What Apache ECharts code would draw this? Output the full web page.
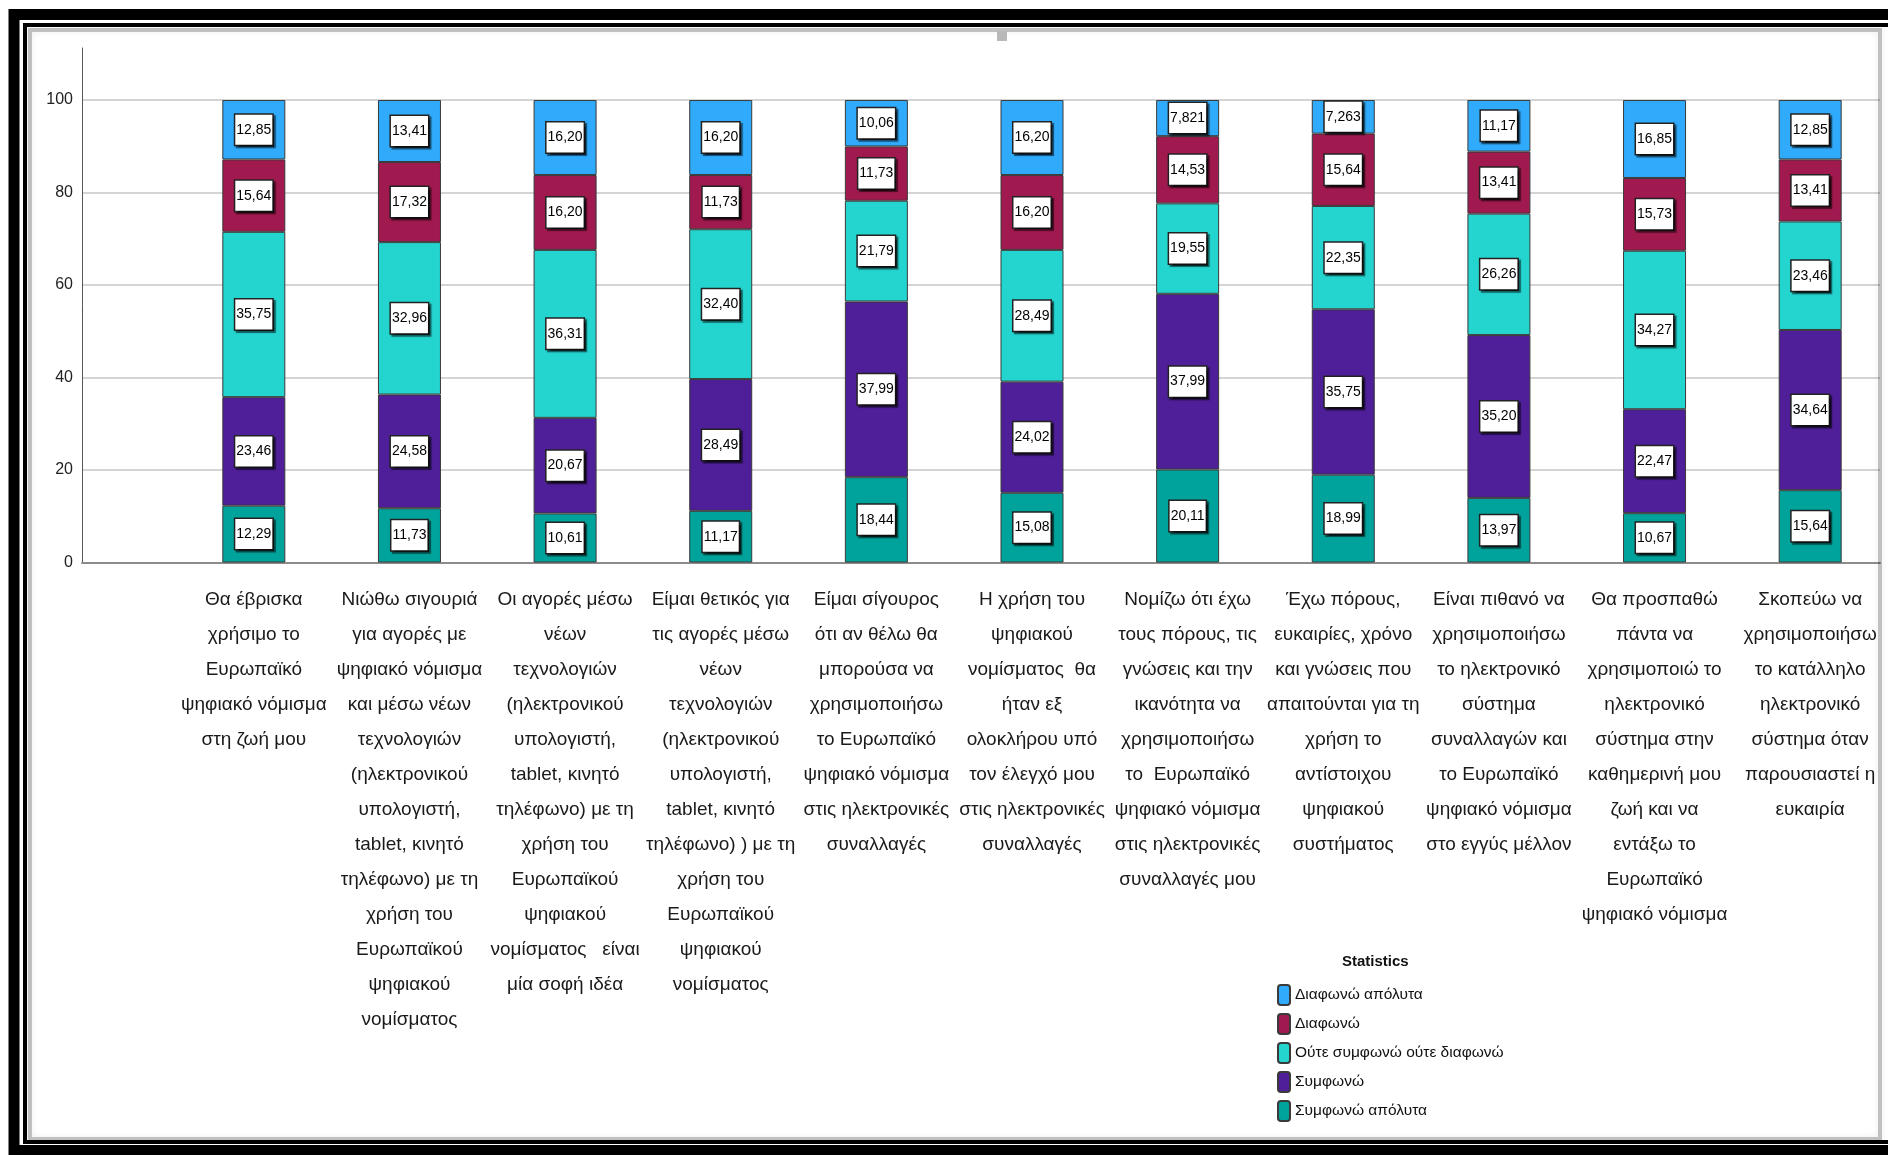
<!DOCTYPE html>
<html>
<head>
<meta charset="utf-8">
<script src="https://cdn.jsdelivr.net/npm/echarts@6/dist/echarts.min.js"></script>
<style>
  html, body { margin: 0; padding: 0; background: #fff; }
  #chart { width: 1888px; height: 1155px; }
</style>
</head>
<body>
<div id="chart"></div>
<script>
// Survey statements (x-axis categories), line breaks as printed under each bar
const categories = [
  "Θα έβρισκα\nχρήσιμο το\nΕυρωπαϊκό\nψηφιακό νόμισμα\nστη ζωή μου",
  "Νιώθω σιγουριά\nγια αγορές με\nψηφιακό νόμισμα\nκαι μέσω νέων\nτεχνολογιών\n(ηλεκτρονικού\nυπολογιστή,\ntablet, κινητό\nτηλέφωνο) με τη\nχρήση του\nΕυρωπαϊκού\nψηφιακού\nνομίσματος",
  "Οι αγορές μέσω\nνέων\nτεχνολογιών\n(ηλεκτρονικού\nυπολογιστή,\ntablet, κινητό\nτηλέφωνο) με τη\nχρήση του\nΕυρωπαϊκού\nψηφιακού\nνομίσματος   είναι\nμία σοφή ιδέα",
  "Είμαι θετικός για\nτις αγορές μέσω\nνέων\nτεχνολογιών\n(ηλεκτρονικού\nυπολογιστή,\ntablet, κινητό\nτηλέφωνο) ) με τη\nχρήση του\nΕυρωπαϊκού\nψηφιακού\nνομίσματος",
  "Είμαι σίγουρος\nότι αν θέλω θα\nμπορούσα να\nχρησιμοποιήσω\nτο Ευρωπαϊκό\nψηφιακό νόμισμα\nστις ηλεκτρονικές\nσυναλλαγές",
  "Η χρήση του\nψηφιακού\nνομίσματος  θα\nήταν εξ\nολοκλήρου υπό\nτον έλεγχό μου\nστις ηλεκτρονικές\nσυναλλαγές",
  "Νομίζω ότι έχω\nτους πόρους, τις\nγνώσεις και την\nικανότητα να\nχρησιμοποιήσω\nτο  Ευρωπαϊκό\nψηφιακό νόμισμα\nστις ηλεκτρονικές\nσυναλλαγές μου",
  "Έχω πόρους,\nευκαιρίες, χρόνο\nκαι γνώσεις που\nαπαιτούνται για τη\nχρήση το\nαντίστοιχου\nψηφιακού\nσυστήματος",
  "Είναι πιθανό να\nχρησιμοποιήσω\nτο ηλεκτρονικό\nσύστημα\nσυναλλαγών και\nτο Ευρωπαϊκό\nψηφιακό νόμισμα\nστο εγγύς μέλλον",
  "Θα προσπαθώ\nπάντα να\nχρησιμοποιώ το\nηλεκτρονικό\nσύστημα στην\nκαθημερινή μου\nζωή και να\nεντάξω το\nΕυρωπαϊκό\nψηφιακό νόμισμα",
  "Σκοπεύω να\nχρησιμοποιήσω\nτο κατάλληλο\nηλεκτρονικό\nσύστημα όταν\nπαρουσιαστεί η\nευκαιρία"
];

// Percentages per response level (stacked bottom to top)
const agreeFully    = [12.29, 11.73, 10.61, 11.17, 18.44, 15.08, 20.11, 18.99, 13.97, 10.67, 15.64];
const agree         = [23.46, 24.58, 20.67, 28.49, 37.99, 24.02, 37.99, 35.75, 35.20, 22.47, 34.64];
const neutral       = [35.75, 32.96, 36.31, 32.40, 21.79, 28.49, 19.55, 22.35, 26.26, 34.27, 23.46];
const disagree      = [15.64, 17.32, 16.20, 11.73, 11.73, 16.20, 14.53, 15.64, 13.41, 15.73, 13.41];
const disagreeFully = [12.85, 13.41, 16.20, 16.20, 10.06, 16.20, 7.821, 7.263, 11.17, 16.85, 12.85];

const seriesNames = [
  "Συμφωνώ απόλυτα",
  "Συμφωνώ",
  "Ούτε συμφωνώ ούτε διαφωνώ",
  "Διαφωνώ",
  "Διαφωνώ απόλυτα"
];
const seriesColors = ["#00a39b", "#4e1f98", "#24d4cf", "#a0194f", "#30abfb"];
const seriesValues = [agreeFully, agree, neutral, disagree, disagreeFully];

// Value axis ticks
const yMin = 0, yMax = 100, yStep = 20;

// Prefer a condensed face of Noto Sans when the system provides one
function hasCondensedFace(family) {
  const ctx = document.createElement('canvas').getContext('2d');
  const sample = 'ψηφιακό νόμισμα';
  ctx.font = '40px ' + family;
  const wide = ctx.measureText(sample).width;
  ctx.font = 'condensed 40px ' + family;
  const narrow = ctx.measureText(sample).width;
  return narrow < wide * 0.93;
}
const condensed = hasCondensedFace("'Noto Sans'");
const FONT = condensed ? "'Noto Sans'" : "'Liberation Sans'";
const STRETCH = condensed ? 'condensed' : 'normal';
const SIZE = condensed
  ? { cat: 24.5, bar: 17, y: 17, legend: 18, title: 18 }
  : { cat: 19, bar: 14, y: 16, legend: 15.5, title: 15 };

const chart = echarts.init(document.getElementById('chart'), null, { renderer: 'canvas' });

// Comma decimal, four significant digits
const fmt = v => Number(v).toPrecision(4).replace('.', ',');

const series = seriesNames.map((name, i) => ({
  name: name,
  type: 'bar',
  stack: 'total',
  xAxisIndex: 2,
  yAxisIndex: 2,
  barWidth: 63,
  data: seriesValues[i],
  itemStyle: { color: seriesColors[i], borderColor: '#3a3a3a', borderWidth: 1 },
  label: {
    show: true,
    position: 'inside',
    formatter: p => fmt(p.value),
    fontFamily: FONT,
    fontWeight: STRETCH,
    fontSize: SIZE.bar,
    lineHeight: 17,
    color: '#000',
    backgroundColor: '#fff',
    borderColor: '#222',
    borderWidth: 1.5,
    padding: [7, 1, 6, 1],
    shadowColor: 'rgba(0,0,0,0.55)',
    shadowBlur: 1,
    shadowOffsetX: 2,
    shadowOffsetY: 2
  },
  emphasis: { disabled: true }
}));

chart.setOption({
  animation: false,
  backgroundColor: '#fff',
  title: {
    text: 'Statistics',
    left: 1337,
    top: 949,
    textStyle: { fontFamily: FONT, fontSize: SIZE.title, fontWeight: 'bold ' + STRETCH, color: '#111' }
  },
  legend: {
    orient: 'vertical',
    left: 1272,
    top: 979,
    itemWidth: 12,
    itemHeight: 20,
    itemGap: 7,
    data: seriesNames.slice().reverse(),
    textStyle: { fontFamily: FONT, fontWeight: STRETCH, fontSize: SIZE.legend, lineHeight: 20, color: '#111' },
    selectedMode: false
  },
  grid: [
    { left: 82, right: 8, top: 48, height: 514.5 },
    { left: 82, right: 8, top: 100, height: 462.5 },
    { left: 176, width: 1721, top: 100, height: 462.5 }
  ],
  xAxis: [
    { gridIndex: 0, type: 'value', show: false },
    {
      gridIndex: 1, type: 'value', min: 0, max: 1,
      axisLine: { show: true, lineStyle: { color: '#8c8c8c', width: 2 } },
      axisTick: { show: false }, axisLabel: { show: false }, splitLine: { show: false }
    },
    {
      gridIndex: 2, type: 'category', data: categories,
      axisLine: { show: false }, axisTick: { show: false },
      axisLabel: {
        interval: 0, margin: 20,
        fontFamily: FONT, fontWeight: STRETCH, fontSize: SIZE.cat, lineHeight: 35,
        color: '#1a1a1a', align: 'center'
      }
    }
  ],
  yAxis: [
    {
      gridIndex: 0, type: 'value', min: 0, max: 1,
      axisLine: { show: true, lineStyle: { color: '#555', width: 1 } },
      axisTick: { show: false }, axisLabel: { show: false }, splitLine: { show: false }
    },
    {
      gridIndex: 1, type: 'value', min: yMin, max: yMax, interval: yStep,
      axisLine: { show: false }, axisTick: { show: false },
      axisLabel: { margin: 9, fontFamily: FONT, fontWeight: STRETCH, fontSize: SIZE.y, color: '#222' },
      splitLine: { show: true, lineStyle: { color: '#c6c6c6', width: 1.5 } }
    },
    { gridIndex: 2, type: 'value', min: yMin, max: yMax, show: false }
  ],
  series: series,
  graphic: [
    // frame around the output panel
    { type: 'rect', z: 100, silent: true,
      shape: { x: 14, y: 14.5, width: 1900, height: 1136 },
      style: { fill: 'none', stroke: '#000', lineWidth: 11 } },
    { type: 'rect', z: 100, silent: true,
      shape: { x: 25, y: 25, width: 1900, height: 1117 },
      style: { fill: 'none', stroke: '#000', lineWidth: 4 } },
    { type: 'rect', z: 99, silent: true,
      shape: { x: 30, y: 30, width: 1850, height: 1109 },
      style: { fill: 'none', stroke: 'rgba(0,0,0,0.22)', lineWidth: 4,
               shadowBlur: 6, shadowColor: 'rgba(0,0,0,0.35)' } },
    // small handle mark at the top of the panel
    { type: 'rect', z: 100, silent: true,
      shape: { x: 997, y: 31, width: 10, height: 10 },
      style: { fill: '#b9b9b9' } }
  ]
});
</script>
</body>
</html>
